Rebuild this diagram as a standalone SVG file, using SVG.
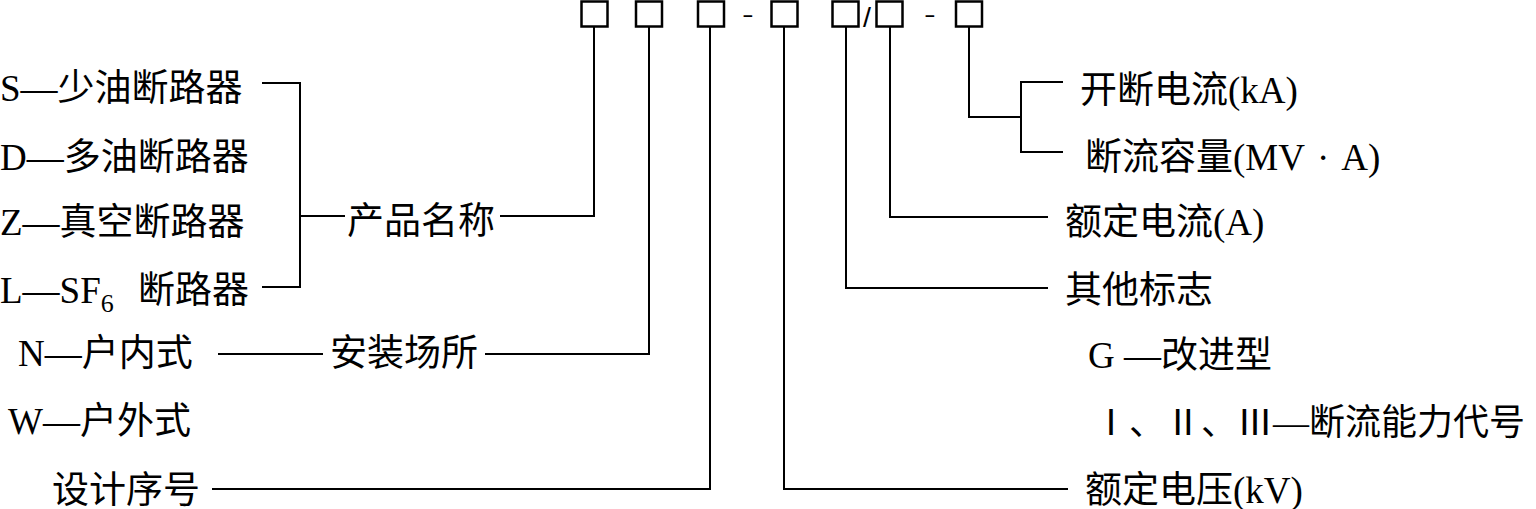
<svg xmlns="http://www.w3.org/2000/svg" width="1536" height="509" viewBox="0 0 1536 509">
<style>
.t{font-family:"Liberation Serif","Noto Sans CJK SC",serif;font-size:37px;fill:#000}
.c{stroke:#000;stroke-width:2;fill:none}
.b{stroke:#000;stroke-width:2.5;fill:#fff}
.s{font-family:"Liberation Sans",sans-serif;font-size:22px;fill:#000}
</style>
<rect width="1536" height="509" fill="#fff"/>
<g id="code">
<rect class="b" x="581.5" y="1.5" width="26" height="25"/>
<rect class="b" x="636" y="1.5" width="26" height="25"/>
<rect class="b" x="698" y="1.5" width="26" height="25"/>
<text class="s" transform="translate(742,22) scale(1.6,1)">-</text>
<rect class="b" x="771.5" y="1.5" width="26" height="25"/>
<rect class="b" x="832.5" y="1.5" width="26" height="25"/>
<text class="s" transform="translate(863,27) scale(1.3,1.25)">/</text>
<rect class="b" x="876.5" y="1.5" width="26" height="25"/>
<text class="s" transform="translate(924,22) scale(1.6,1)">-</text>
<rect class="b" x="956" y="1.5" width="26" height="25"/>
</g>
<g id="connectors">
<polyline class="c" points="262,83 300,83 300,287 262,287"/>
<line class="c" x1="300" y1="216" x2="345" y2="216"/>
<polyline class="c" points="500,216 594,216 594,27"/>
<line class="c" x1="218" y1="354" x2="323" y2="354"/>
<polyline class="c" points="485,354 649,354 649,27"/>
<polyline class="c" points="212,489 710,489 710,27"/>
<polyline class="c" points="784,27 784,489 1068,489"/>
<polyline class="c" points="846,27 846,288 1048,288"/>
<polyline class="c" points="890,27 890,217 1048,217"/>
<polyline class="c" points="969,27 969,117 1021,117"/>
<polyline class="c" points="1063,82 1021,82 1021,152 1063,152"/>
</g>
<g id="n-s"><text class="t" x="0" y="101">S—少油断路器</text></g>
<g id="n-d"><text class="t" x="0" y="170">D—多油断路器</text></g>
<g id="n-z"><text class="t" x="0" y="235">Z—真空断路器</text></g>
<g id="n-l"><text class="t" x="0" y="303">L—SF<tspan font-size="26" dy="9">6</tspan><tspan dy="-9" x="138">断路器</tspan></text></g>
<g id="n-name"><text class="t" x="347" y="234">产品名称</text></g>
<g id="n-n"><text class="t" x="18" y="366">N—户内式</text></g>
<g id="n-place"><text class="t" x="330" y="366">安装场所</text></g>
<g id="n-w"><text class="t" x="8" y="434">W—户外式</text></g>
<g id="n-design"><text class="t" x="52" y="503">设计序号</text></g>
<g id="n-break"><text class="t" x="1080" y="103">开断电流(kA)</text></g>
<g id="n-cap"><text class="t" x="1085" y="170">断流容量(MV<tspan dx="12">·</tspan><tspan dx="12">A)</tspan></text></g>
<g id="n-current"><text class="t" x="1065" y="235">额定电流(A)</text></g>
<g id="n-other"><text class="t" x="1065" y="303">其他标志</text></g>
<g id="n-g"><text class="t" x="1088" y="368">G —改进型</text></g>
<g id="n-roman"><text class="t" x="1093" y="435" style="font-size:36px">Ⅰ、Ⅱ、Ⅲ—断流能力代号</text></g>
<g id="n-volt"><text class="t" x="1085" y="503">额定电压(kV)</text></g>
</svg>
